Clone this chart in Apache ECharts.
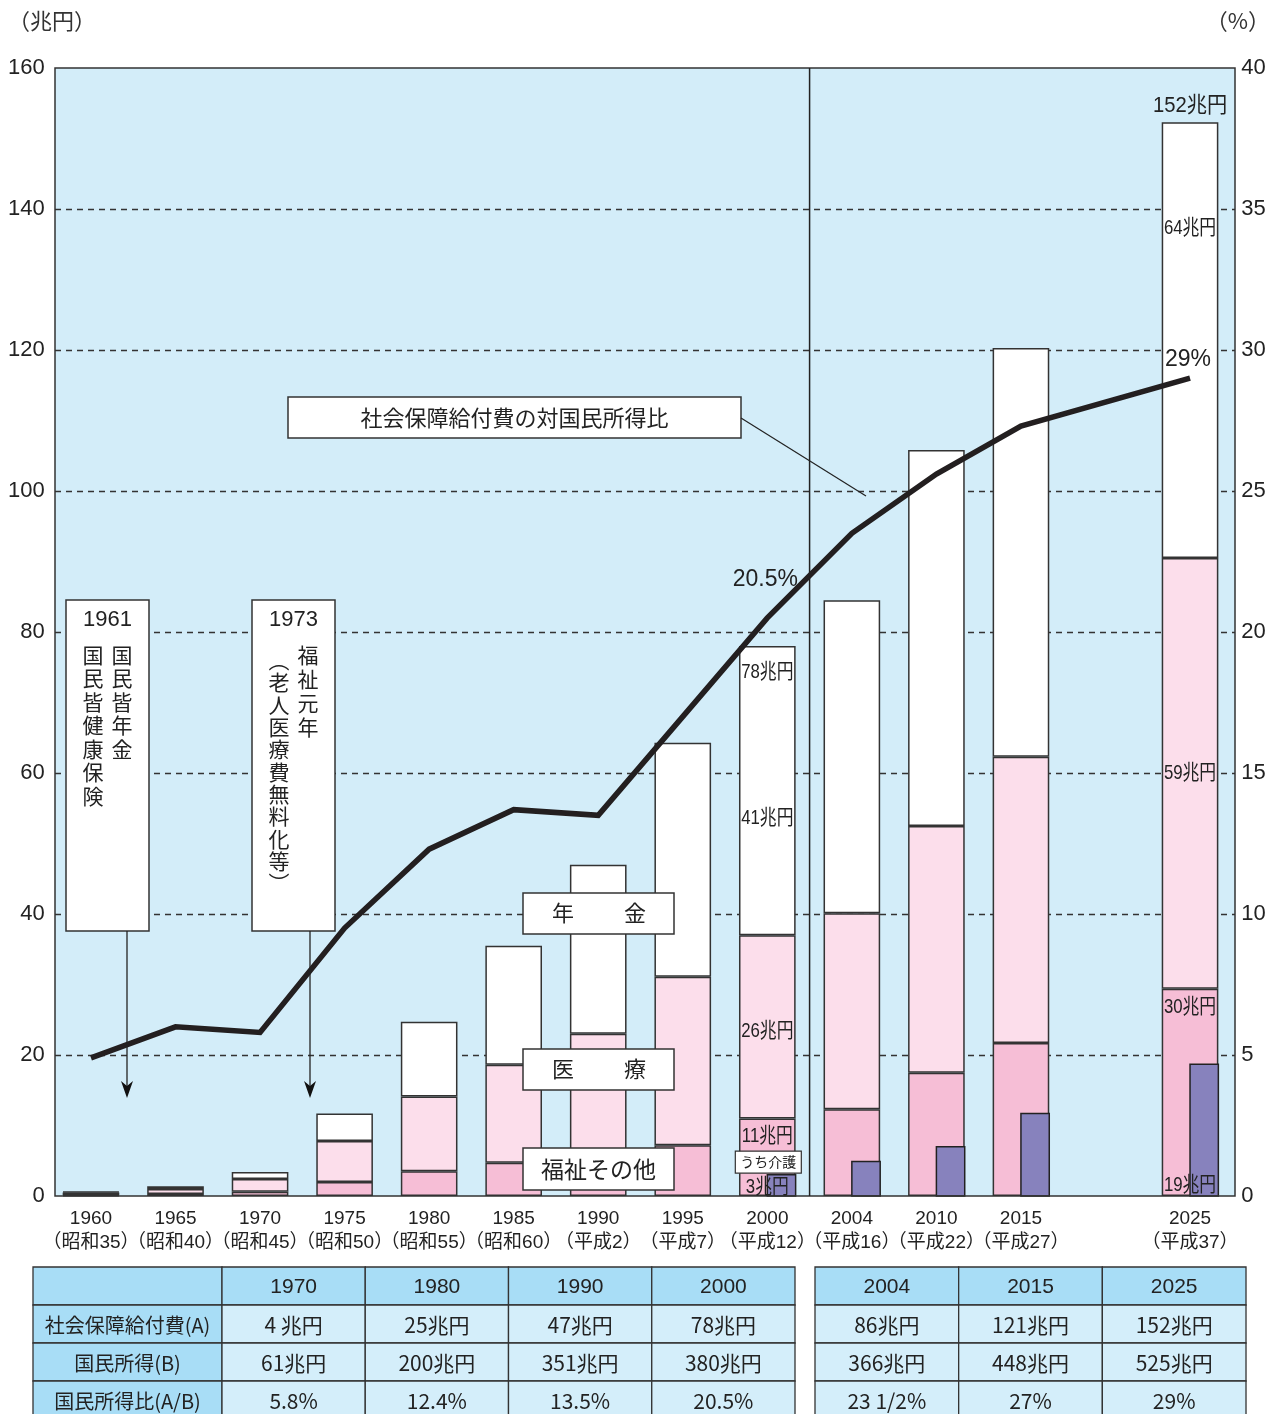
<!DOCTYPE html>
<html><head><meta charset="utf-8">
<script src="https://cdn.jsdelivr.net/npm/echarts/dist/echarts.min.js"></script>
<style>html,body{margin:0;padding:0;background:#fff}#c{width:1278px;height:1414px}</style>
</head><body><div id="c"></div>
<script>
// ---- data ----
const categories = ['1960','1965','1970','1975','1980','1985','1990','1995','2000','2004','2010','2015','','2025'];
const eraLabels  = ['昭和35','昭和40','昭和45','昭和50','昭和55','昭和60','平成2','平成7','平成12','平成16','平成22','平成27','','平成37'];
const welfare = [0.1, 0.3, 0.6, 2.0, 3.5, 4.7, 4.8, 7.2, 11, 12.3, 17.5, 21.7, null, 29.4];
const medical = [0.4, 0.7, 1.8, 5.8, 10.6, 13.9, 18.2, 23.9, 26, 27.8, 35.0, 40.6, null, 61.1];
const pension = [0.1, 0.4, 1.0, 3.9, 10.6, 16.9, 24.0, 33.2, 41, 44.4, 53.3, 58.0, null, 61.8];
const care    = [null, null, null, null, null, null, null, null, 3, 4.9, 7.0, 11.7, null, 18.7];
const ratio   = [4.9, 6.0, 5.8, 9.5, 12.3, 13.7, 13.5, 17.0, 20.5, 23.5, 25.6, 27.3, null, 29.0];
const leftTicks = [0,20,40,60,80,100,120,140,160];
const rightTicks = [0,5,10,15,20,25,30,35,40];
const gridValues = [20,40,60,80,100,120,140];

// table
const tableYearsL = ['1970','1980','1990','2000'];
const tableYearsR = ['2004','2015','2025'];
const rowLabels = ['社会保障給付費(A)','国民所得(B)','国民所得比(A/B)'];
const benefitRow = ['4 兆円','25兆円','47兆円','78兆円','86兆円','121兆円','152兆円'];
const incomeRow  = ['61兆円','200兆円','351兆円','380兆円','366兆円','448兆円','525兆円'];
const ratioRow   = ['5.8%','12.4%','13.5%','20.5%','23 1/2%','27%','29%'];

// in-bar value labels: [category index, value position, text]
const valueNotes = [
  [8, 74.3, '78兆円'], [8, 53.6, '41兆円'], [8, 23.4, '26兆円'], [8, 8.5, '11兆円'], [8, 1.3, '3兆円'],
  [13, 154.6, '152兆円'], [13, 137.3, '64兆円'], [13, 60.0, '59兆円'], [13, 26.8, '30兆円'], [13, 1.6, '19兆円']
];
const ratioNotes = [[8, 20.5, '20.5%', -2, -38], [13, 29.0, '29%', -2, -19]];

const FONT = "'Liberation Sans','Noto Sans CJK JP',sans-serif";
const JP = "'Noto Sans CJK JP','Liberation Sans',sans-serif";
const C_BG = '#d3edf9', C_W = '#ffffff', C_M = '#fcdeeb', C_F = '#f6bed6', C_P = '#8782bd', C_LINE = '#333';

// plot frame (the drawn border / background)
const FRAME = {x0: 55, x1: 1235, y0: 68, y1: 1196};

const chart = echarts.init(document.getElementById('c'));
const barStyle = c => ({color: c, borderColor: C_LINE, borderWidth: 1.5});

chart.setOption({
  animation: false,
  textStyle: {fontFamily: FONT},
  grid: {left: 48.7, right: 45.7, top: 68, bottom: 218, show: false},
  xAxis: {
    type: 'category',
    data: categories.map((c, i) => c ? c + '\n（' + eraLabels[i] + '）' : ''),
    axisTick: {show: false},
    axisLine: {show: false},
    axisLabel: {interval: 0, color: '#222', fontSize: 19, lineHeight: 24, margin: 11, fontFamily: FONT}
  },
  yAxis: [
    {type: 'value', min: 0, max: 160, interval: 20,
     axisLine: {show: false}, axisTick: {show: false},
     axisLabel: {color: '#222', fontSize: 22, margin: 4, formatter: v => leftTicks.includes(v) ? String(v) : ''},
     splitLine: {show: false}},
    {type: 'value', min: 0, max: 40, interval: 5,
     axisLine: {show: false}, axisTick: {show: false},
     axisLabel: {color: '#222', fontSize: 22, margin: 9, formatter: v => rightTicks.includes(v) ? String(v) : ''},
     splitLine: {show: false}}
  ],
  series: [
    {name: '福祉その他', type: 'bar', stack: 's', barWidth: '67%', data: welfare, itemStyle: barStyle(C_F)},
    {name: '医療', type: 'bar', stack: 's', barWidth: '67%', data: medical, itemStyle: barStyle(C_M)},
    {name: '年金', type: 'bar', stack: 's', barWidth: '67%', data: pension, itemStyle: barStyle(C_W)},
    {name: 'うち介護', type: 'custom', z: 3,
     data: care.map((v, i) => v == null ? null : [i, v]).filter(d => d),
     encode: {x: 0, y: 1},
     renderItem: function (params, api) {
       const idx = api.value(0), v = api.value(1);
       const p0 = api.coord([idx, 0]);
       const p1 = api.coord([idx, v]);
       const band = api.size([1, 0])[0];
       const w = band * 0.67 / 2;
       return {type: 'rect', shape: {x: p0[0], y: p1[1], width: w, height: p0[1] - p1[1]},
               style: {fill: C_P, stroke: '#222', lineWidth: 1.5}};
     }},
    {name: '対国民所得比', type: 'line', yAxisIndex: 1, data: ratio, connectNulls: true, symbol: 'none', z: 5,
     lineStyle: {color: '#231f20', width: 5.5, join: 'miter'}}
  ]
});

// ---- annotations ----
const g = [];
function txt(x, y, s, opt) {
  g.push(Object.assign({type: 'text', x: x, y: y, z: 50,
    style: Object.assign({text: s, fill: '#222', font: '21px ' + JP, textAlign: 'center', textVerticalAlign: 'middle'}, opt || {})}));
}
function rect(x, y, w, h, fill, lw, z) {
  g.push({type: 'rect', z: z || 40, shape: {x: x, y: y, width: w, height: h},
    style: {fill: fill, stroke: '#333', lineWidth: lw || 1.5}});
}
function line(x1, y1, x2, y2, lw, z, dash) {
  g.push({type: 'line', z: z || 45, shape: {x1: x1, y1: y1, x2: x2, y2: y2},
    style: {stroke: '#222', lineWidth: lw || 1.3, lineDash: dash || null}});
}
function arrowHead(x, y) {
  g.push({type: 'polygon', z: 46, shape: {points: [[x, y], [x - 6, y - 17], [x, y - 12], [x + 6, y - 17]]}, style: {fill: '#111'}});
}

// plot background, dashed grid lines, frame
g.push({type: 'rect', z: -10, shape: {x: FRAME.x0, y: FRAME.y0, width: FRAME.x1 - FRAME.x0, height: FRAME.y1 - FRAME.y0},
  style: {fill: C_BG, stroke: null}});
gridValues.forEach(v => {
  const y = Math.round(chart.convertToPixel({yAxisIndex: 0}, v)) + 0.5;
  g.push({type: 'line', z: 1, shape: {x1: FRAME.x0, y1: y, x2: FRAME.x1, y2: y},
    style: {stroke: '#333', lineWidth: 1.3, lineDash: [6, 5]}});
});
g.push({type: 'rect', z: 4, shape: {x: FRAME.x0, y: FRAME.y0, width: FRAME.x1 - FRAME.x0, height: FRAME.y1 - FRAME.y0},
  style: {fill: null, stroke: C_LINE, lineWidth: 1.5}});

// unit labels
txt(8, 21, '（兆円）', {textAlign: 'left', font: '22px ' + JP, fill: '#333'});
txt(1270, 21, '（%）', {textAlign: 'right', font: '22px ' + JP, fill: '#333'});

// vertical separator between 2000 and 2004
const pa = chart.convertToPixel({xAxisIndex: 0, yAxisIndex: 0}, [8, 0]);
const pb = chart.convertToPixel({xAxisIndex: 0, yAxisIndex: 0}, [9, 160]);
const sepX = (pa[0] + pb[0]) / 2;
line(sepX, pb[1], sepX, pa[1], 1.5, 4);

// in-bar labels
valueNotes.forEach(n => {
  const p = chart.convertToPixel({xAxisIndex: 0, yAxisIndex: 0}, [n[0], n[1]]);
  const big = n[2] === '152兆円';
  g.push({type: 'text', x: p[0], y: p[1], z: 50, scaleX: big ? 0.92 : 0.8,
    style: {text: n[2], fill: '#222', font: (big ? '22px ' : '21px ') + FONT, textAlign: 'center', textVerticalAlign: 'middle'}});
});
ratioNotes.forEach(n => {
  const p = chart.convertToPixel({xAxisIndex: 0, yAxisIndex: 1}, [n[0], n[1]]);
  txt(p[0] + n[3], p[1] + n[4], n[2], {font: '23px ' + FONT});
});
// うち介護 box in 2000 bar
{
  const p = chart.convertToPixel({xAxisIndex: 0, yAxisIndex: 0}, [8, 4.8]);
  rect(p[0] - 32, p[1] - 11, 66, 22, '#fff', 1.2, 48);
  txt(p[0] + 1, p[1], 'うち介護', {font: '14px ' + JP});
}

// ratio caption box + leader
rect(288, 397, 453, 41, '#fff', 1.5);
txt(514.5, 418, '社会保障給付費の対国民所得比', {font: '22px ' + JP});
line(741, 418, 866, 496, 1.2);

// category boxes
rect(523, 893, 151, 41, '#fff');
txt(563, 913, '年', {font: '22px ' + JP}); txt(635, 913, '金', {font: '22px ' + JP});
rect(523, 1049, 151, 41, '#fff');
txt(563, 1069, '医', {font: '22px ' + JP}); txt(635, 1069, '療', {font: '22px ' + JP});
rect(523, 1148, 151, 42, '#fff');
txt(598.5, 1169, '福祉その他', {font: '23px ' + JP});

// 1961 / 1973 boxes
function vcol(x, y, s, lh) {
  g.push({type: 'text', x: x, y: y, z: 50,
    style: {text: s.split('').join('\n'), fill: '#222', font: '21px ' + JP, textAlign: 'center', textVerticalAlign: 'top', lineHeight: lh}});
}
rect(66, 600, 83, 331, '#fff');
txt(107.5, 620, '1961', {font: '22px ' + FONT});
vcol(122, 643, '国民皆年金', 23.5);
vcol(93, 643, '国民皆健康保険', 23.5);
line(127, 931, 127, 1092, 1.3); arrowHead(127, 1098);

rect(252, 600, 83, 331, '#fff');
txt(293.5, 620, '1973', {font: '22px ' + FONT});
vcol(308, 643, '福祉元年', 24);
vcol(279, 649, '︵老人医療費無料化等︶', 22.3);
line(310, 931, 310, 1092, 1.3); arrowHead(310, 1098);

// ---- table ----
const C_TH = '#a8ddf6', C_TD = '#d4eefa';
const rowsY = [1267, 1305, 1343, 1381, 1419];
const bodyRows = [benefitRow, incomeRow, ratioRow];
function cell(x, y, w, h, fill, s, font) {
  rect(x, y, w, h, fill, 1.3, 30);
  txt(x + w / 2, y + h / 2 + 1, s, {font: font || ('21px ' + JP), fill: '#222'});
}
// left table
const lx0 = 33, lLabW = 189, lColW = 143.25;
cell(lx0, rowsY[0], lLabW, 38, C_TH, '');
tableYearsL.forEach((y, j) => cell(lx0 + lLabW + j * lColW, rowsY[0], lColW, 38, C_TH, y, '21px ' + FONT));
for (let r = 0; r < 3; r++) {
  cell(lx0, rowsY[r + 1], lLabW, 38, C_TH, rowLabels[r], '20px ' + JP);
  for (let j = 0; j < 4; j++) cell(lx0 + lLabW + j * lColW, rowsY[r + 1], lColW, 38, C_TD, bodyRows[r][j], '21px ' + JP);
}
// right table
const rx0 = 815, rColW = 143.67;
tableYearsR.forEach((y, j) => cell(rx0 + j * rColW, rowsY[0], rColW, 38, C_TH, y, '21px ' + FONT));
for (let r = 0; r < 3; r++) {
  for (let j = 0; j < 3; j++) cell(rx0 + j * rColW, rowsY[r + 1], rColW, 38, C_TD, bodyRows[r][4 + j], '21px ' + JP);
}

chart.setOption({graphic: {elements: g}});
</script>
</body></html>
